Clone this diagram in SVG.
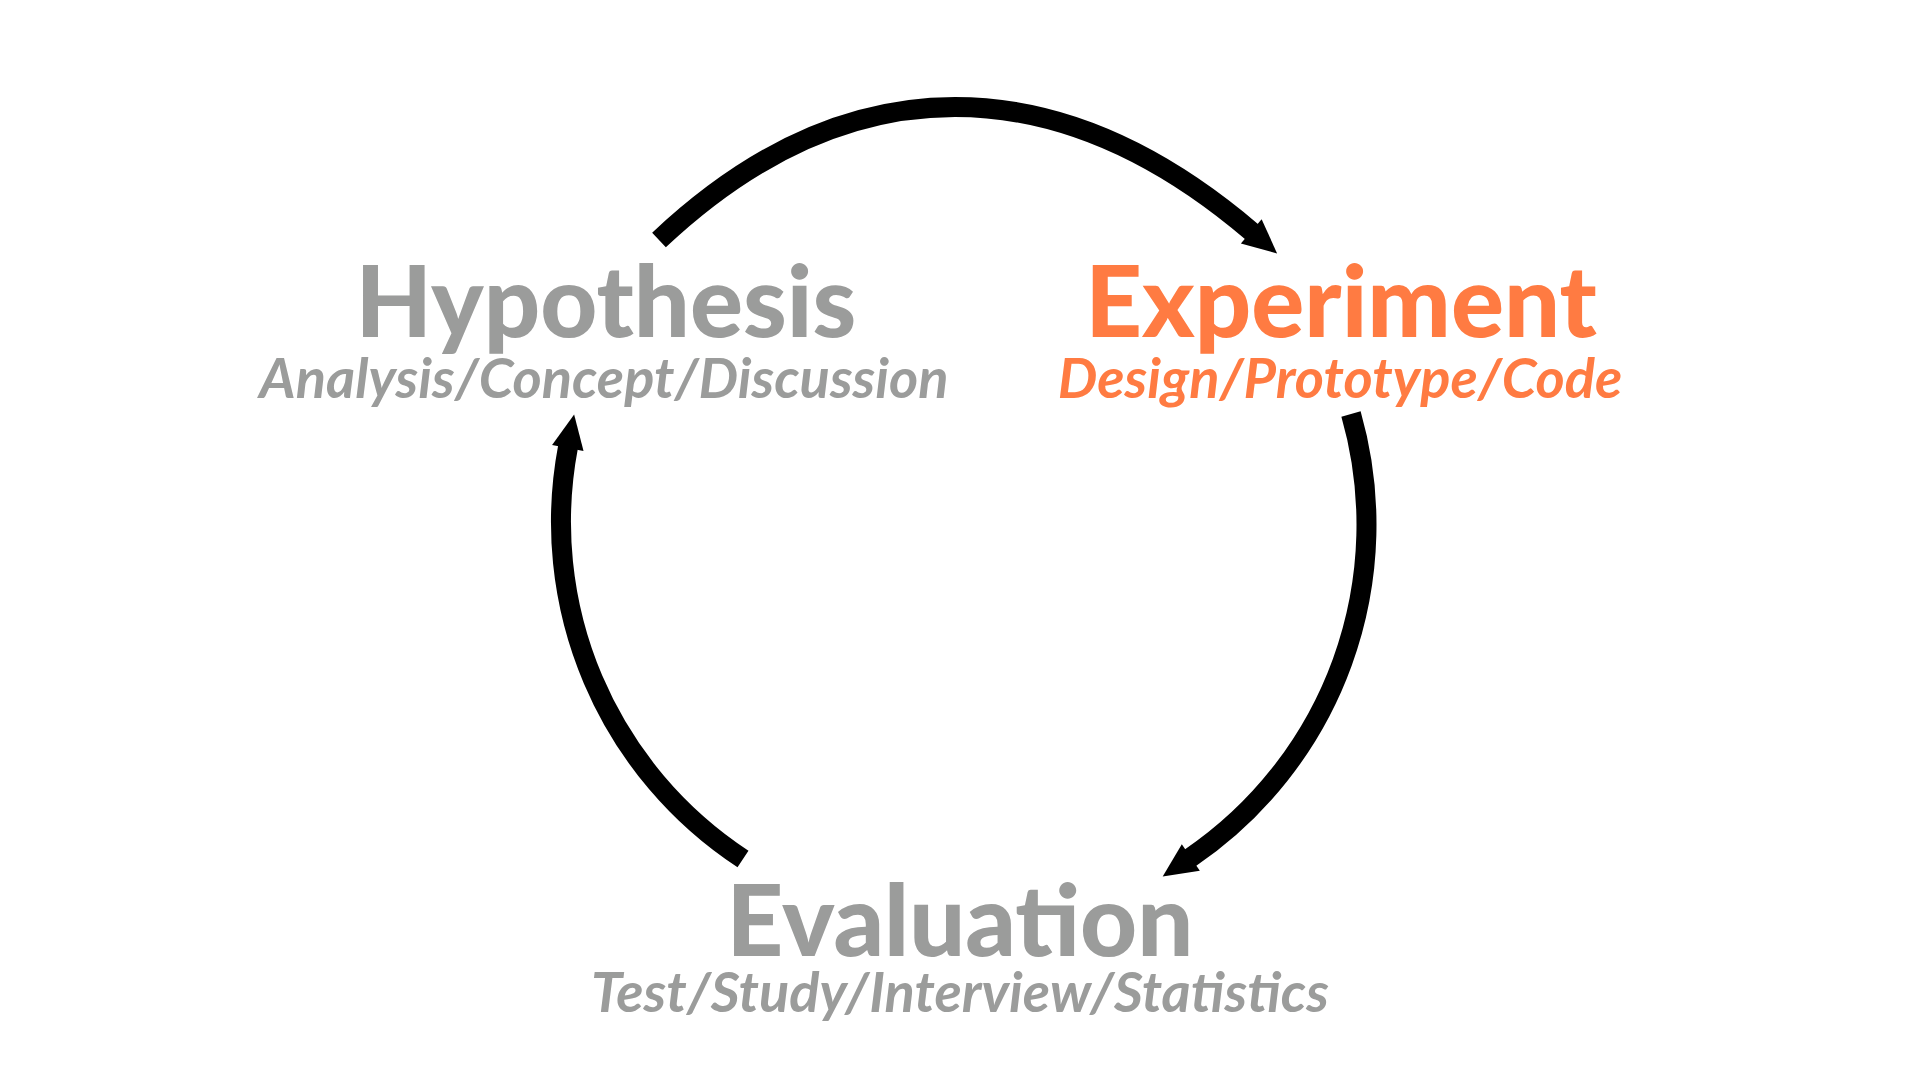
<svg xmlns="http://www.w3.org/2000/svg" width="1920" height="1080" viewBox="0 0 1920 1080">
  <style>
    .title { font-family: Lato, "Liberation Sans", sans-serif; font-weight: 900; font-size: 99px; text-anchor: middle; }
    .sub { font-family: Lato, "Liberation Sans", sans-serif; font-weight: 700; font-style: italic; font-size: 56px; text-anchor: middle; }
    .gray { fill: #9B9C9B; }
    .orange { fill: #FF7B42; }
    .arc { fill: none; stroke: #000000; stroke-width: 20; stroke-linecap: butt; }
  </style>
  <defs>
    <marker id="head" markerUnits="userSpaceOnUse" markerWidth="40" markerHeight="40" refX="1" refY="16" orient="auto" overflow="visible">
      <path d="M0,0 L34,16 L0,32 Z" fill="#000000"/>
    </marker>
  </defs>
  <rect width="1920" height="1080" fill="#FFFFFF"/>
  <g id="connectors">
    <path id="hyp-to-exp" class="arc" d="M659,240 C760,145 860,107 955,107 C1050,107 1150,145 1252,232" marker-end="url(#head)"/>
    <path id="exp-to-eval" class="arc" d="M1351,414 A403,403 0 0 1 1190,858" marker-end="url(#head)"/>
    <path id="eval-to-hyp" class="arc" d="M743,859 A403,403 0 0 1 568,447" marker-end="url(#head)"/>
  </g>
  <g id="hypothesis">
    <text class="title gray" x="606" y="337">Hypothesis</text>
    <text class="sub gray" x="604" y="398">Analysis/Concept/Discussion</text>
  </g>
  <g id="experiment">
    <text class="title orange" x="1341" y="337">Experiment</text>
    <text class="sub orange" x="1340" y="398">Design/Prototype/Code</text>
  </g>
  <g id="evaluation">
    <text class="title gray" x="960" y="956">Evaluation</text>
    <text class="sub gray" x="960" y="1012">Test/Study/Interview/Statistics</text>
  </g>
</svg>
